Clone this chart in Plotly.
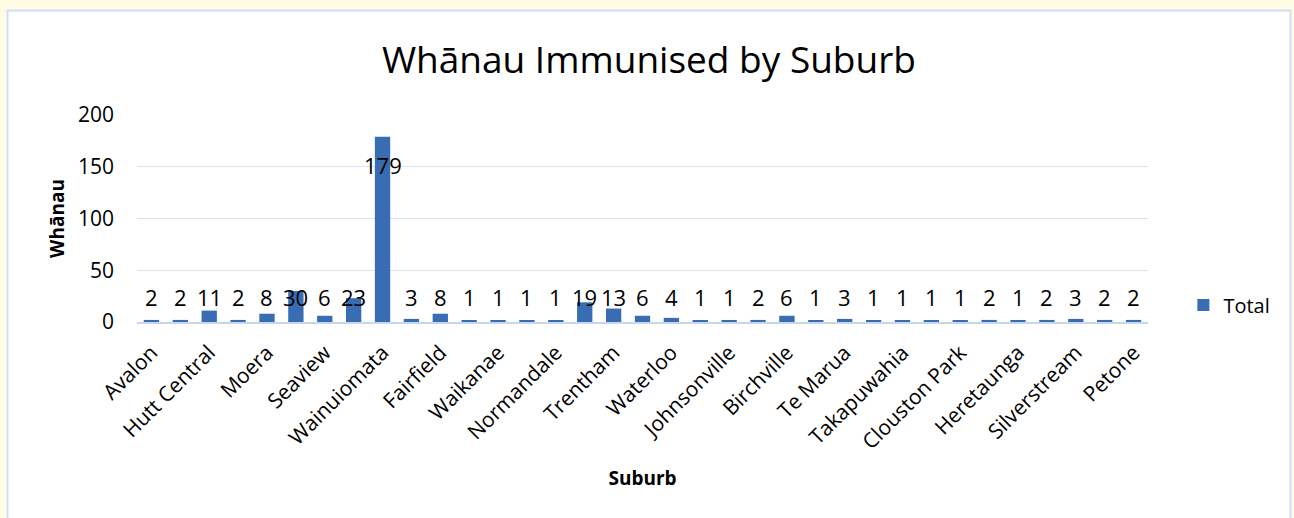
import plotly.graph_objects as go

# Number of whānau immunised in each suburb (in axis order)
totals = [2, 2, 11, 2, 8, 30, 6, 23, 179, 3, 8, 1, 1, 1, 1, 19, 13, 6,
          4, 1, 1, 2, 6, 1, 3, 1, 1, 1, 1, 2, 1, 2, 3, 2, 2]

# Suburb names shown on the axis (every second category is labelled)
tick_labels = ["Avalon", "Hutt Central", "Moera", "Seaview", "Wainuiomata",
               "Fairfield", "Waikanae", "Normandale", "Trentham", "Waterloo",
               "Johnsonville", "Birchville", "Te Marua", "Takapuwahia",
               "Clouston Park", "Heretaunga", "Silverstream", "Petone"]

positions = list(range(len(totals)))
tick_positions = positions[::2]

FONT = "'Open Sans', 'Noto Sans', sans-serif"
BAR_BLUE = "#386cb3"

fig = go.Figure()
fig.add_trace(go.Bar(
    x=positions,
    y=totals,
    name="Total",
    marker=dict(color=BAR_BLUE, line=dict(width=0)),
    hoverinfo="x+y",
))

# Value labels: small bars share one label row, tall bars label inside the top
annotations = []
for xp, v in zip(positions, totals):
    if v >= 100:
        anchor_y, shift = v, -28
    else:
        anchor_y, shift = 0, 25
    annotations.append(dict(x=xp, y=anchor_y, yshift=shift, text=str(v),
                            showarrow=False, xref="x", yref="y",
                            font=dict(size=22, color="#000000", family=FONT)))

fig.update_layout(
    width=1294,
    height=518,
    margin=dict(l=137, r=146, t=115, b=196),
    paper_bgcolor="#fffbe4",
    plot_bgcolor="#ffffff",
    font=dict(family=FONT, color="#000000"),
    title=dict(text="Whānau Immunised by Suburb", x=0.5015, xanchor="center",
               y=1 - 60 / 518, yanchor="middle", yref="container",
               font=dict(size=37, color="#000000", family=FONT)),
    bargap=0.47,
    showlegend=True,
    legend=dict(x=1.035, y=0.082, xanchor="left", yanchor="middle",
                font=dict(size=20, color="#000000", family=FONT),
                bgcolor="rgba(0,0,0,0)", itemwidth=30),
    annotations=annotations,
    shapes=[dict(type="rect", xref="paper", yref="paper",
                 x0=(7.5 - 137) / 1011, x1=(1290.5 - 137) / 1011,
                 y0=(322 - 530) / 207, y1=(322 - 10.5) / 207,
                 fillcolor="#ffffff", line=dict(color="#cddff1", width=2),
                 layer="below")],
)

fig.update_xaxes(
    range=[-0.5, len(totals) - 0.5],
    tickmode="array",
    tickvals=tick_positions,
    ticktext=tick_labels,
    tickangle=-45,
    tickfont=dict(size=21, color="#000000", family=FONT),
    ticklabelstandoff=8,
    showgrid=False,
    showline=True,
    linecolor="#c6d7ec",
    linewidth=2,
    ticks="",
    title=dict(text="<b>Suburb</b>", font=dict(size=19, color="#000000", family=FONT),
               standoff=18),
    zeroline=False,
)

fig.update_yaxes(
    range=[0, 200],
    tickvals=[0, 50, 100, 150, 200],
    tickfont=dict(size=21, color="#000000", family=FONT),
    showgrid=True,
    gridcolor="#d9e4f2",
    gridwidth=1,
    zeroline=False,
    showline=False,
    ticks="",
    ticklabelstandoff=22,
    title=dict(text="<b>Whānau</b>", font=dict(size=19, color="#000000", family=FONT),
               standoff=8),
)

fig.write_html("out.html")
